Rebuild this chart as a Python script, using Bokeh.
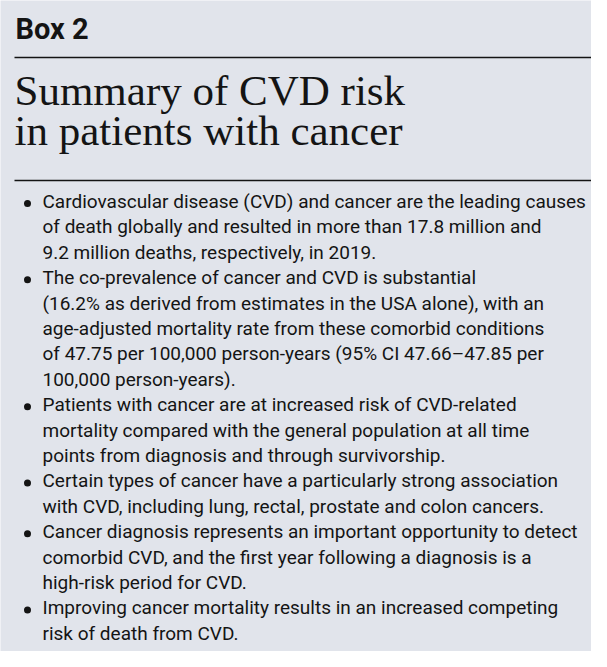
from bokeh.plotting import figure
from bokeh.models import Range1d
from bokeh.core.properties import value
from bokeh.embed import file_html
from bokeh.resources import INLINE

box_label = "Box 2"
title_lines = ["Summary of CVD risk", "in patients with cancer"]
bullets = [
    ["Cardiovascular disease (CVD) and cancer are the leading causes",
     "of death globally and resulted in more than 17.8 million and",
     "9.2 million deaths, respectively, in 2019."],
    ["The co-prevalence of cancer and CVD is substantial",
     "(16.2% as derived from estimates in the USA alone), with an",
     "age-adjusted mortality rate from these comorbid conditions",
     "of 47.75 per 100,000 person-years (95% CI 47.66\u201347.85 per",
     "100,000 person-years)."],
    ["Patients with cancer are at increased risk of CVD-related",
     "mortality compared with the general population at all time",
     "points from diagnosis and through survivorship."],
    ["Certain types of cancer have a particularly strong association",
     "with CVD, including lung, rectal, prostate and colon cancers."],
    ["Cancer diagnosis represents an important opportunity to detect",
     "comorbid CVD, and the first year following a diagnosis is a",
     "high-risk period for CVD."],
    ["Improving cancer mortality results in an increased competing",
     "risk of death from CVD."],
]

W, H = 591, 651
BG = "#e1e4eb"
INK = "#141414"
K = 0.42  # empirical baseline correction (fraction of font size)

p = figure(width=W, height=H, output_backend="svg", toolbar_location=None,
           x_range=Range1d(0, W), y_range=Range1d(H, 0), min_border=0)
p.axis.visible = False
p.grid.visible = False
p.outline_line_color = None
p.background_fill_color = BG
p.border_fill_color = BG

# header
fs_box = 29
p.text(x=[15], y=[41 - K * fs_box], text=[box_label], text_font=value("Roboto"),
       text_font_style="bold", text_font_size=f"{fs_box}px", text_color=INK,
       text_baseline="alphabetic")
p.segment(x0=[14, 14], y0=[57, 180], x1=[591, 591], y1=[57, 180],
          line_color=INK, line_width=1.5)
fs_t = 43
p.text(x=[14, 14], y=[108 - K * fs_t, 148 - K * fs_t], text=title_lines,
       text_font=value("Liberation Serif"), text_font_size=f"{fs_t}px",
       text_color=INK, text_baseline="alphabetic")

# bullets
fs_b = 19
xs, ys, ts, bx, by = [], [], [], [], []
i = 0
for b in bullets:
    for j, line in enumerate(b):
        yb = 209 + 25.4 * i
        xs.append(42)
        ys.append(yb - K * fs_b)
        ts.append(line)
        if j == 0:
            bx.append(27)
            by.append(yb - 6)
        i += 1

p.text(x=xs, y=ys, text=ts, text_font=value("Roboto"), text_font_size=f"{fs_b}px",
       text_color=INK, text_baseline="alphabetic")
p.scatter(x=bx, y=by, size=7, color=INK, line_color=None)

open("out.html", "w").write(file_html(p, INLINE))
